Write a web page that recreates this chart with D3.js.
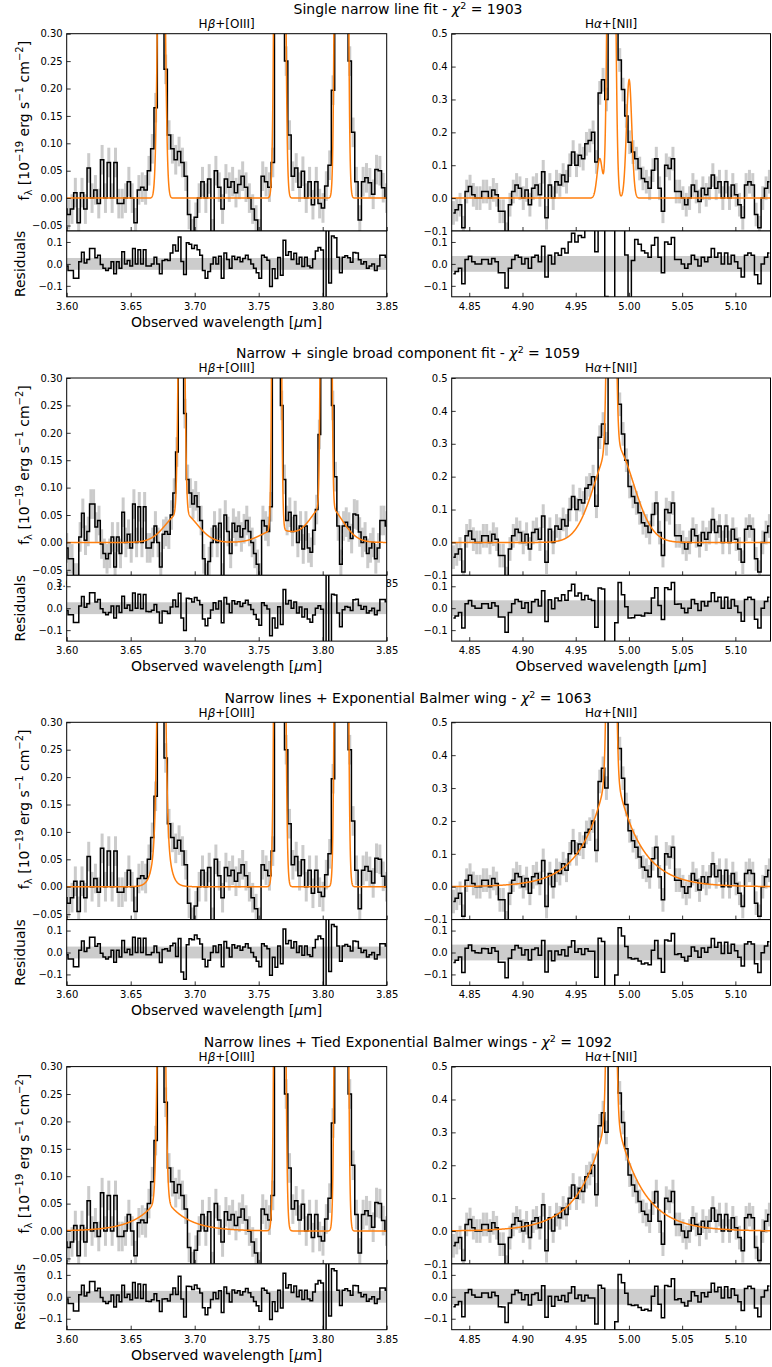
<!DOCTYPE html>
<html>
<head>
<meta charset="utf-8">
<script src="https://cdn.jsdelivr.net/npm/d3@7"></script>
<style>
  body { margin: 0; background: #fff; }
  text { font-family: "DejaVu Sans", sans-serif; fill: #000; }
</style>
</head>
<body>
<script>
// ---- data ----

// Hb + [OIII] flux, one value per spectral pixel
var hbFlux = [
  -0.01, -0.03, -0.03, -0.065, -0.065, 0.01, 0.053, 0.004, 0.02, 0.07, 0.07, 0.028, 0.04, -0.003, -0.02,
  -0.03, -0.02, 0.01, -0.045, 0.01, -0.02, 0.055, 0.0, 0.015, -0.01,
  0.07, 0.0, 0.065, 0.0, 0.065, -0.01, -0.01, 0.0, 0.03, 0.0,
  -0.045, 0.015, 0.02, 0.015, 0.05, 0.09, 0.165, 0.8, 0.95, 0.235,
  0.115, 0.09, 0.07, 0.085, 0.065, 0.04, -0.03, -0.065, -0.035, 0.0,
  0.03, 0.0, 0.035, -0.065, 0.05, 0.02, -0.02, 0.035, 0.02, 0.03,
  0.01, 0.025, 0.04, 0.02, 0.0, -0.02, -0.04, -0.065, 0.04, 0.03,
  0.02, 0.065, 1.9, 4.7, 2.6, 0.25, 0.115, 0.04, 0.055, 0.02,
  0.049, 0.0, 0.03, -0.012, 0.03, -0.01, -0.018, 0.022, 0.06, 0.197,
  2.65, 10.5, 13.5, 2.5, 0.25, 0.12, 0.03, -0.04, 0.03, 0.037,
  0.028, 0.007, 0.052, 0.05, 0.019, 0.0,
  0.01, -0.02, -0.01, 0.0, -0.03, -0.01, 0.04, 0.04, 0.03
];
var hbErr = 0.027;
// pixel grid used for the fit and residuals (and the row 2 plot)
var hbFitStart = 3.600, hbFitStep = 0.0021;
// pixel grid the other three rows were plotted on
var hbShownStart = 3.5623, hbShownStep = 0.0026145;

// Ha + [NII] flux
var haFlux = [
  -0.045, -0.035, -0.02, -0.09, 0.02, 0.035, 0.01, 0.0, 0.0, 0.02,
  0.02, 0.0, 0.025, 0.01, -0.04, -0.04, -0.11, -0.02, 0.02, 0.04,
  0.03, 0.0, 0.025, -0.02, 0.03, 0.04, 0.01, 0.08, -0.06, 0.04,
  0.0, 0.05, 0.04, 0.07, 0.05, 0.1, 0.14, 0.1, 0.13, 0.12,
  0.165, 0.175, 0.2, 0.11, 0.32, 0.36, 0.3, 1.7, 1.6, 0.6,
  0.42, 0.33, 0.25, 0.17, 0.14, 0.12, 0.09, 0.06, 0.05, 0.03,
  0.085, 0.12, 0.03, -0.04, 0.1, 0.09, 0.12, 0.02, 0.02, 0.0,
  -0.02, 0.0, 0.04, 0.02, -0.01, 0.03, 0.01, 0.03, 0.07, 0.03,
  0.05, 0.0, 0.05, 0.0, 0.04, 0.01, -0.02, -0.06, 0.04, 0.05,
  0.04, -0.05, -0.09, 0.0, 0.03, 0.05
];
var haErr = 0.036;
var haStart = 4.8351, haStep = 0.003125;

// fit components, one entry per row
var rowTitles = ['Single narrow line fit', 'Narrow + single broad component fit',
  'Narrow lines + Exponential Balmer wing', 'Narrow lines + Tied Exponential Balmer wings'];
var chi2 = [1903, 1059, 1063, 1092];
var hbOnFitGrid = [false, true, false, false];
var rightXLabel = [false, true, false, false];

var hbCentres = [3.6897, 3.7640, 3.80265];          // Hb, [OIII]4959, [OIII]5007
var hbNarrowSigma = 0.0017;
var hbNarrowAmp = [[1.0, 4.8, 14.4], [1.0, 4.8, 14.4], [0.7, 4.8, 14.4], [0.95, 4.8, 14.4]];
var hbBroadSigma = 0.012;
var hbBroadAmp = [[0, 0, 0], [0.055, 0.023, 0.07], [0, 0, 0], [0, 0, 0]];
var hbWingAmp = [0, 0, 0.49, 0.07];
var hbWingTau = [1, 1, 0.0024, 0.0137];

var haCentres = [4.9726, 4.9835, 5.0002];            // [NII]6548, Ha, [NII]6584
var haNarrowSigma = 0.0025;
var haNarrowAmp = [[0.12, 2.5, 0.36], [0, 2.2, 0], [0, 2.2, 0], [0, 2.2, 0]];
var haBroadCentre = 4.986, haBroadSigma = 0.018;
var haBroadAmp = [0, 0.30, 0, 0];
var haWingAmp = [0, 0, 0.41, 0.42];
var haWingTau = [1, 1, 0.023, 0.024];

// ticks
var hbXTicks = [3.60, 3.65, 3.70, 3.75, 3.80, 3.85];
var haXTicks = [4.85, 4.90, 4.95, 5.00, 5.05, 5.10];
var hbYTicks = [-0.05, 0.00, 0.05, 0.10, 0.15, 0.20, 0.25, 0.30];
var haYTicks = [-0.1, 0.0, 0.1, 0.2, 0.3, 0.4, 0.5];
var resYTicks = [-0.1, 0.0, 0.1];

// ---- models ----
function gauss(w, c, a, s) { return a ? a * Math.exp(-0.5 * Math.pow((w - c) / s, 2)) : 0; }

function hbModel(r, w) {
  var m = 0;
  hbCentres.forEach(function(c, i) {
    m += gauss(w, c, hbNarrowAmp[r][i], hbNarrowSigma);
    m += gauss(w, c, hbBroadAmp[r][i], hbBroadSigma);
  });
  m += hbWingAmp[r] * Math.exp(-Math.abs(w - hbCentres[0]) / hbWingTau[r]);
  return m;
}

function haModel(r, w) {
  var m = 0;
  haCentres.forEach(function(c, i) { m += gauss(w, c, haNarrowAmp[r][i], haNarrowSigma); });
  m += gauss(w, haBroadCentre, haBroadAmp[r], haBroadSigma);
  m += haWingAmp[r] * Math.exp(-Math.abs(w - haCentres[1]) / haWingTau[r]);
  return m;
}

// ---- layout ----
var W = 772, H = 1367;
var svg = d3.select('body').append('svg').attr('width', W).attr('height', H);

var rowTop0 = 33.7, rowGap = 344.3, mainH = 197.3, resH = 65.8;
var xHb = d3.scaleLinear().domain([3.60, 3.85]).range([66.7, 386.7]);
var xHa = d3.scaleLinear().domain([4.8335, 5.133]).range([451.7, 770.5]);
var orange = '#ff7f0e';

function styleAxis(g) {
  g.select('.domain').remove();
  g.selectAll('line').attr('stroke', '#000').attr('stroke-width', 0.8);
  g.selectAll('text').attr('font-family', 'DejaVu Sans').attr('font-size', 10);
}

function drawPanel(o) {
  var x = o.x, x0 = x.range()[0], x1 = x.range()[1];
  var mainTop = o.top, mainBot = o.top + mainH, resBot = mainBot + resH;
  var y = d3.scaleLinear().domain(o.yDomain).range([mainBot, mainTop]);
  var yr = d3.scaleLinear().domain([-0.15, 0.15]).range([resBot, mainBot]);

  svg.append('clipPath').attr('id', 'cm' + o.id).append('rect')
    .attr('x', x0).attr('y', mainTop).attr('width', x1 - x0).attr('height', mainH);
  svg.append('clipPath').attr('id', 'cr' + o.id).append('rect')
    .attr('x', x0).attr('y', mainBot).attr('width', x1 - x0).attr('height', resH);

  // main spectrum
  var main = svg.append('g');
  var plot = main.append('g').attr('clip-path', 'url(#cm' + o.id + ')');
  plot.selectAll('rect').data(o.data).join('rect')
    .attr('x', d => x(d.w) - 1.5).attr('width', 3)
    .attr('y', d => y(d.f + o.err))
    .attr('height', d => y(d.f - o.err) - y(d.f + o.err))
    .attr('fill', '#cbcbcb');
  plot.append('path').datum(o.data)
    .attr('d', d3.line().x(d => x(d.w)).y(d => y(d.f)).curve(d3.curveStep))
    .attr('fill', 'none').attr('stroke', '#000').attr('stroke-width', 1.5);
  plot.append('path').datum(o.model)
    .attr('d', d3.line().x(d => x(d.w)).y(d => y(d.f)))
    .attr('fill', 'none').attr('stroke', orange).attr('stroke-width', 1.5);

  main.append('g').attr('transform', 'translate(' + x0 + ',0)')
    .call(d3.axisLeft(y).tickValues(o.yTicks).tickFormat(d3.format(o.yFmt))
      .tickSizeInner(-4).tickSizeOuter(0).tickPadding(4))
    .call(styleAxis);
  main.append('g').attr('transform', 'translate(0,' + mainBot + ')')
    .call(d3.axisBottom(x).tickValues(o.xTicks)
      .tickFormat(o.mainXLabels ? d3.format('.2f') : () => '')
      .tickSizeInner(-4).tickSizeOuter(0).tickPadding(5))
    .call(styleAxis);
  main.append('rect').attr('x', x0).attr('y', mainTop).attr('width', x1 - x0).attr('height', mainH)
    .attr('fill', 'none').attr('stroke', '#000').attr('stroke-width', 1);

  // residuals
  var res = svg.append('g');
  res.append('rect').attr('x', x0).attr('y', mainBot).attr('width', x1 - x0).attr('height', resH)
    .attr('fill', '#fff');
  var rp = res.append('g').attr('clip-path', 'url(#cr' + o.id + ')');
  rp.append('rect').attr('x', x0).attr('width', x1 - x0)
    .attr('y', yr(o.err)).attr('height', yr(-o.err) - yr(o.err)).attr('fill', '#cccccc');
  rp.append('path').datum(o.resid)
    .attr('d', d3.line().x(d => x(d.w)).y(d => yr(d.f)).curve(d3.curveStep))
    .attr('fill', 'none').attr('stroke', '#000').attr('stroke-width', 1.5);
  res.append('g').attr('transform', 'translate(' + x0 + ',0)')
    .call(d3.axisLeft(yr).tickValues(resYTicks).tickFormat(d3.format('.1f'))
      .tickSizeInner(-4).tickSizeOuter(0).tickPadding(4))
    .call(styleAxis);
  res.append('g').attr('transform', 'translate(0,' + resBot + ')')
    .call(d3.axisBottom(x).tickValues(o.xTicks).tickFormat(d3.format('.2f'))
      .tickSizeInner(-4).tickSizeOuter(0).tickPadding(6))
    .call(styleAxis);
  res.append('rect').attr('x', x0).attr('y', mainBot).attr('width', x1 - x0).attr('height', resH)
    .attr('fill', 'none').attr('stroke', '#000').attr('stroke-width', 1);

  // panel subtitle
  var st = svg.append('text').attr('x', (x0 + x1) / 2).attr('y', mainTop - 5.7)
    .attr('text-anchor', 'middle').attr('font-size', 12);
  st.append('tspan').text('H');
  st.append('tspan').attr('font-style', 'italic').text(o.greek);
  st.append('tspan').text(o.sub);

  if (o.xLabel) {
    var xl = svg.append('text').attr('x', (x0 + x1) / 2).attr('y', resBot + 30)
      .attr('text-anchor', 'middle').attr('font-size', 14);
    xl.append('tspan').text('Observed wavelength [');
    xl.append('tspan').attr('font-style', 'italic').text('μ');
    xl.append('tspan').text('m]');
  }
}

rowTitles.forEach(function(title, r) {
  var top = rowTop0 + rowGap * r;

  // row title
  var t = svg.append('text').attr('x', 408).attr('y', top - 19.7)
    .attr('text-anchor', 'middle').attr('font-size', 14);
  t.append('tspan').text(title + ' - ');
  t.append('tspan').attr('font-style', 'italic').text('χ');
  t.append('tspan').attr('font-size', 9.5).attr('dy', -5).text('2');
  t.append('tspan').attr('dy', 5).text(' = ' + chi2[r]);

  // Hb + [OIII]
  var fitW = k => hbFitStart + hbFitStep * k;
  var showW = k => hbOnFitGrid[r] ? fitW(k) : hbShownStart + hbShownStep * k;
  drawPanel({
    id: 'hb' + r, top: top, x: xHb, yDomain: [-0.06, 0.30], yTicks: hbYTicks, yFmt: '.2f',
    xTicks: hbXTicks, err: hbErr, greek: 'β', sub: '+[OIII]', xLabel: true,
    mainXLabels: hbOnFitGrid[r],
    data: hbFlux.map((f, k) => ({w: showW(k), f: f})),
    model: d3.range(-1, hbFlux.length, 0.05).map(k => ({w: showW(k), f: hbModel(r, fitW(k))})),
    resid: hbFlux.map((f, k) => ({w: fitW(k), f: f - hbModel(r, fitW(k))}))
  });

  // Ha + [NII]
  var haW = j => haStart + haStep * j;
  drawPanel({
    id: 'ha' + r, top: top, x: xHa, yDomain: [-0.1, 0.5], yTicks: haYTicks, yFmt: '.1f',
    xTicks: haXTicks, err: haErr, greek: 'α', sub: '+[NII]', xLabel: rightXLabel[r],
    mainXLabels: false,
    data: haFlux.map((f, j) => ({w: haW(j), f: f})),
    model: d3.range(4.83, 5.136, 0.0002).map(w => ({w: w, f: haModel(r, w)})),
    resid: haFlux.map((f, j) => ({w: haW(j), f: f - haModel(r, haW(j))}))
  });

  // y labels
  var yl = svg.append('text')
    .attr('transform', 'translate(28.5,' + (top + 87) + ') rotate(-90)')
    .attr('text-anchor', 'middle').attr('font-size', 14);
  yl.append('tspan').text('f');
  yl.append('tspan').attr('font-size', 10).attr('dy', 3).text('λ');
  yl.append('tspan').attr('dy', -3).text(' [10');
  yl.append('tspan').attr('font-size', 10).attr('dy', -6).text('−19');
  yl.append('tspan').attr('dy', 6).text(' erg s');
  yl.append('tspan').attr('font-size', 10).attr('dy', -6).text('−1');
  yl.append('tspan').attr('dy', 6).text(' cm');
  yl.append('tspan').attr('font-size', 10).attr('dy', -6).text('−2');
  yl.append('tspan').attr('dy', 6).text(']');

  svg.append('text')
    .attr('transform', 'translate(24.5,' + (top + mainH + resH / 2) + ') rotate(-90)')
    .attr('text-anchor', 'middle').attr('font-size', 14).text('Residuals');
});
</script>
</body>
</html>
